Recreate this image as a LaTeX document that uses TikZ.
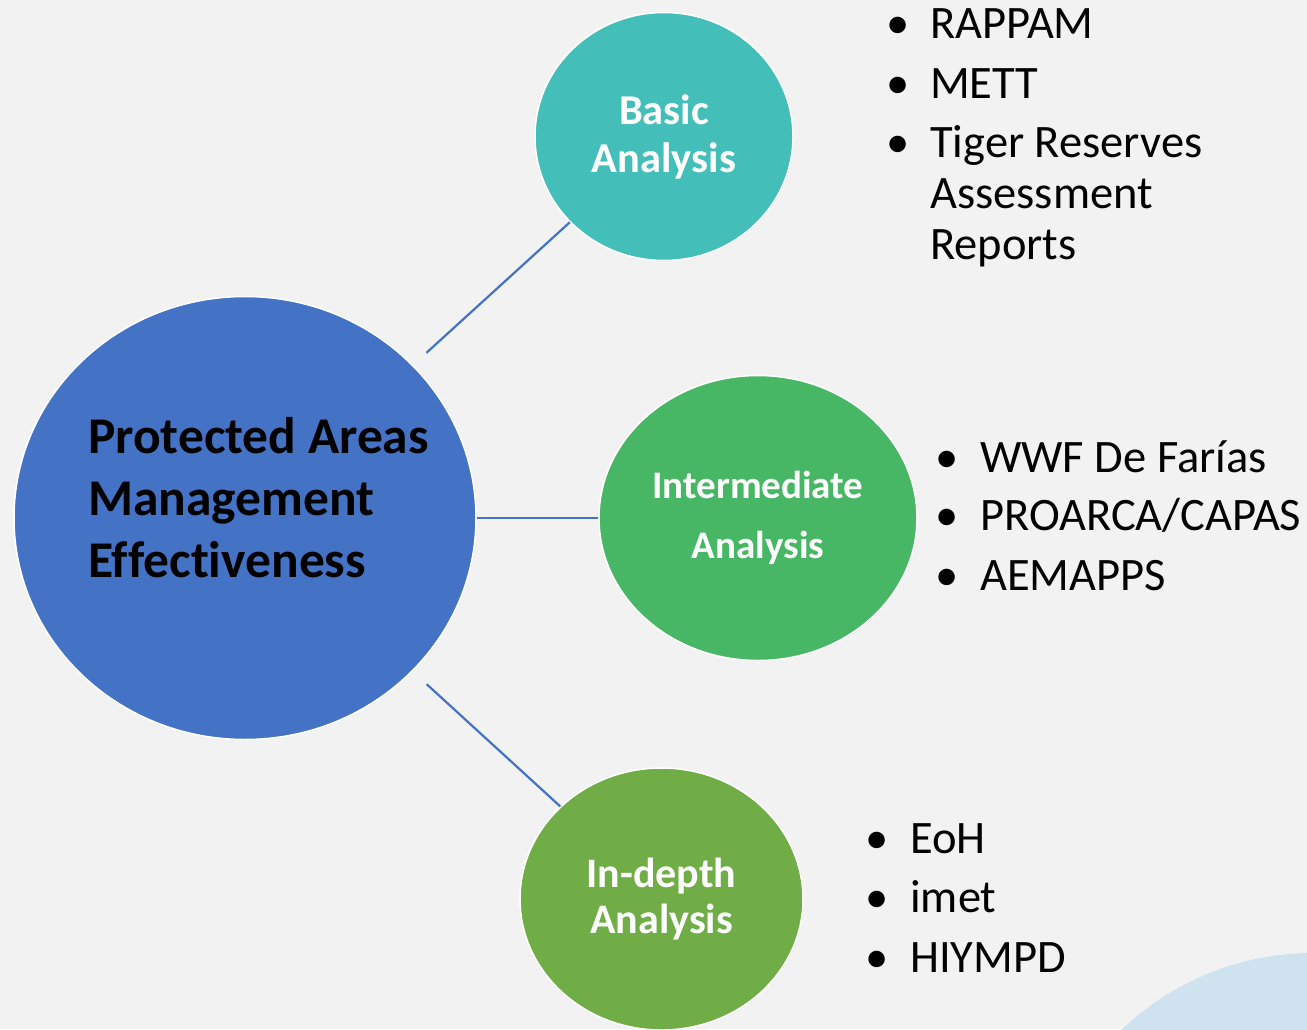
\documentclass[tikz,border=0pt]{standalone}
\usepackage{fontspec}
\setmainfont[Ligatures={NoCommon}]{Carlito}
\usetikzlibrary{shapes.geometric}
\definecolor{bgcol}{HTML}{F2F2F2}
\definecolor{mainblue}{HTML}{4472C4}
\definecolor{tealc}{HTML}{44BEB8}
\definecolor{greenc}{HTML}{47B765}
\definecolor{olivec}{HTML}{70AD47}
\definecolor{lightbluec}{HTML}{CFE2EF}
\begin{document}
\begin{tikzpicture}[x=1pt,y=-1pt,
  bubble/.style={ellipse, draw=white, line width=1.5pt, inner sep=0pt, text=white, align=center},
  conn/.style={draw=mainblue, line width=2.2pt},
  itemtext/.style={anchor=base west, inner sep=0pt, text=black},
  dot/.style={anchor=base, inner sep=0pt, text=black}]
\useasboundingbox (0,0) rectangle (1307,1029);
\fill[bgcol] (0,0) rectangle (1307,1029);
\begin{scope}
\clip (0,0) rectangle (1307,1029);
\fill[lightbluec] (1313,1230) circle [radius=277];
\node[bubble, fill=olivec, minimum width=283pt, minimum height=262pt,
  font=\fontsize{42}{46}\selectfont\bfseries] (indepth) at (661.5,899) {In-depth\\Analysis};
\end{scope}
% main circle
\node[ellipse, fill=mainblue, draw=white, line width=1.5pt, inner sep=0pt,
  minimum width=462pt, minimum height=443pt] (main) at (245,518) {};
\node[anchor=base west, inner sep=0pt, font=\fontsize{51.5}{62}\selectfont\bfseries] (maintext) at (88,453)
  {\vtop{\hbox{Protected Areas}\hbox{Management}\hbox{Effectiveness}}};
% branch circles
\node[bubble, fill=tealc, minimum width=258pt, minimum height=248pt,
  font=\fontsize{42.5}{48}\selectfont\bfseries] (basic) at (664,136.5) {Basic\\Analysis};
\node[bubble, fill=greenc, minimum width=318pt, minimum height=285pt,
  font=\fontsize{39}{60}\selectfont\bfseries] (inter) at (758,518) {Intermediate\\Analysis};
% connectors
\draw[conn, shorten <=18pt] (main) -- (basic);
\draw[conn] (main) -- (inter);
\draw[conn, shorten <=19pt] (main) -- (indepth);
% top list
\begin{scope}[font=\fontsize{46.5}{51}\selectfont]
\node[dot] (b1) at (898,38) {\textbullet};
\node[itemtext] (t1) at (930,38) {RAPPAM};
\node[dot] (b2) at (898,98) {\textbullet};
\node[itemtext] (t2) at (930,98) {METT};
\node[dot] (b3) at (898,157) {\textbullet};
\node[itemtext] (t3) at (930,157) {\vtop{\hbox{Tiger Reserves}\hbox{Assessment}\hbox{Reports}}};
\end{scope}
% middle list
\begin{scope}[font=\fontsize{46.5}{53}\selectfont]
\node[dot] (b4) at (947,472) {\textbullet};
\node[itemtext] (t4) at (980,472) {WWF De Farías};
\node[dot] (b5) at (947,530) {\textbullet};
\node[itemtext] (t5) at (980,530) {PROARCA/CAPAS};
\node[dot] (b6) at (947,590) {\textbullet};
\node[itemtext] (t6) at (980,590) {AEMAPPS};
\end{scope}
% bottom list
\begin{scope}[font=\fontsize{46.5}{53}\selectfont]
\node[dot] (b7) at (877,853) {\textbullet};
\node[itemtext] (t7) at (910,853) {EoH};
\node[dot] (b8) at (877,912) {\textbullet};
\node[itemtext] (t8) at (910,912) {imet};
\node[dot] (b9) at (877,972) {\textbullet};
\node[itemtext] (t9) at (910,972) {HIYMPD};
\end{scope}
\end{tikzpicture}
\end{document}
